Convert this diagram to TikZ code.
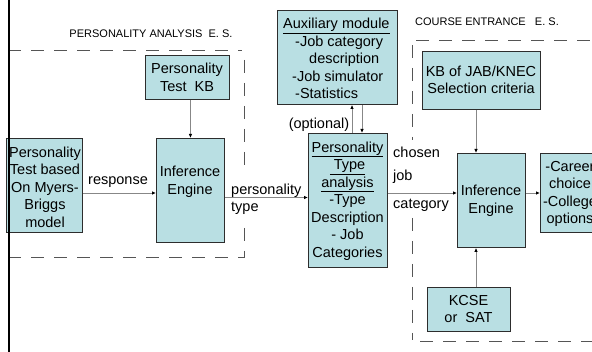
\documentclass[tikz,border=0pt]{standalone}
\usepackage{fontspec}
\setmainfont{Liberation Sans}
\usetikzlibrary{arrows.meta,calc}
\definecolor{boxfill}{RGB}{185,223,227}
\definecolor{boxline}{RGB}{45,45,45}
\definecolor{linkgray}{RGB}{135,135,135}
\definecolor{dashgray}{RGB}{85,85,85}

\begin{document}
\begin{tikzpicture}[x=1pt,y=-1pt,
  box/.style={draw=boxline, fill=boxfill, line width=0.9pt, inner sep=0pt, anchor=north west},
  txt/.style={font=\fontsize{14.5}{17.5}\selectfont, inner sep=0pt, align=center},
  lbl/.style={font=\fontsize{14.5}{17.5}\selectfont, inner sep=0pt},
  title/.style={font=\fontsize{11}{13}\selectfont, inner sep=0pt},
  link/.style={draw=linkgray, line width=0.9pt, -{Latex[length=4pt,width=3.5pt,color=black]}},
  border/.style={draw=dashgray, line width=0.9pt, dash pattern=on 13pt off 10pt}]

\clip (0,0) rectangle (592,352);
\fill[white] (0,0) rectangle (592,352);

% expert-system boundaries
\draw[border] (8,50) -- (242,50);
\draw[border] (244,60) -- (244,172);
\draw[border] (244,228) -- (244,258);
\draw[border] (8,257) -- (244,257);
\node[title] (patitle) at (151,34) {PERSONALITY ANALYSIS\ \ E. S.};

\draw[border] (416,40) -- (592,40);
\draw[border] (412,45) -- (412,140);
\draw[border] (412,218) -- (412,340);
\draw[border] (420,341) -- (592,341);
\node[title] (cetitle) at (487,22) {COURSE ENTRANCE\ \ \ E. S.};

% boxes
\node[box, minimum width=76pt, minimum height=94pt] (mbti) at (6,138) {};
\node[txt] (mbtitext) at (45,187) {Personality\\Test based\\On Myers-\\Briggs\\model};

\node[box, minimum width=84pt, minimum height=44pt] (kb1) at (145,55) {};
\node[txt] (kb1text) at (187,77.5) {Personality\\Test\ \ KB};

\node[box, minimum width=68pt, minimum height=104pt] (ie1) at (156,138) {};
\node[txt] (ie1text) at (190,182) {Inference\\Engine};

\node[box, minimum width=120pt, minimum height=94pt] (aux) at (277,10) {};
\node[txt, align=left, anchor=west] (auxtext) at (283,58.5)
  {\underline{Auxiliary module}\\\hspace*{12pt}-Job category\\\hspace*{26pt}description\\\hspace*{9pt}-Job simulator\\\hspace*{12pt}-Statistics};

\node[box, minimum width=79pt, minimum height=134pt] (anal) at (308,133) {};
\node[txt] (analtext) at (347.5,201)
  {\underline{Personality}\\\underline{\ Type}\\\underline{analysis}\\-Type\\Description\\- Job\\Categories};

\node[box, minimum width=118pt, minimum height=58pt] (kb2) at (422,51) {};
\node[txt] (kb2text) at (481,80) {KB of JAB/KNEC\\Selection criteria};

\node[box, minimum width=68pt, minimum height=94pt] (ie2) at (457,153) {};
\node[txt] (ie2text) at (491,201) {Inference\\Engine};

\node[box, minimum width=62pt, minimum height=79pt] (career) at (540,153) {};
\node[txt] (careertext) at (570,194) {-Career\\choice\\-College\\options};

\node[box, minimum width=83pt, minimum height=44pt] (kcse) at (427,287) {};
\node[txt] (kcsetext) at (468.5,309) {KCSE\\or\ \ SAT};

% connectors
\draw[link] (ie1.north |- kb1.south) -- (ie1.north);
\draw[link] ($(mbti.north east)+(0,55)$) -- ($(ie1.north west)+(0,55)$);
\draw[link] ($(ie1.north east)+(0,59.5)$) -- ($(anal.north west)+(0,64.5)$);
\coordinate (upfoot) at ($(anal.north west)+(44,0)$);
\coordinate (downfoot) at ($(anal.north west)+(54,0)$);
\draw[link] (upfoot) -- (upfoot |- aux.south);
\draw[link] (downfoot |- aux.south) -- (downfoot);
\draw[link] ($(anal.north east)+(0,60)$) -- ($(ie2.north west)+(0,40)$);
\coordinate (feed) at ($(ie2.north west)+(19,0)$);
\draw[link] (feed |- kb2.south) -- (feed);
\draw[link] (feed |- kcse.north) -- (feed |- ie2.south);
\draw[link] ($(ie2.north east)+(0,40)$) -- ($(career.north west)+(0,40)$);

% connector labels
\node[lbl] (resp) at (118,182) {response};
\node[lbl, anchor=west] (ptype1) at (231,191) {personality};
\node[lbl, anchor=west] (ptype2) at (231,208) {type};
\node[lbl] (opt) at (319,125) {(optional)};
\node[lbl, anchor=west] (chosen) at (393,152) {chosen};
\node[lbl, anchor=west] (job) at (393,177) {job};
\node[lbl, anchor=west] (cat) at (393,205) {category};

% heavy rule on the left
\draw[black, line width=2.6pt] (8.8,0) -- (8.8,352);
\end{tikzpicture}
\end{document}
